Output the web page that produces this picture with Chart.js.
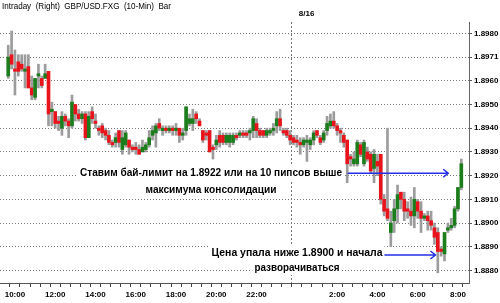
<!DOCTYPE html>
<html>
<head>
<meta charset="utf-8">
<script src="https://cdn.jsdelivr.net/npm/chart.js@4.4.0/dist/chart.umd.min.js"></script>
<style>
  html, body { margin: 0; padding: 0; background: #fff; }
  #wrap { width: 500px; height: 303px; }
</style>
</head>
<body>
<div id="wrap"><canvas id="chart"></canvas></div>
<script>
/* GBP/USD 10-minute candles, 9:40 to 8:10 next day (8/16). */

const barStart = 580;   // 9:40, minutes from midnight of the first day
const barStep = 10;     // 10-min bars

const opens = [
  1.8962,1.8971,1.8965,1.8968,1.8967,1.8964,1.8966,1.8957,1.8953,1.8962,
  1.8961,1.8961,1.8964,1.8947,1.8947,1.8943,1.8940,1.8945,1.8943,1.8941,
  1.8950,1.8946,1.8944,1.8946,1.8936,1.8947,1.8943,1.8940,1.8941,1.8939,
  1.8937,1.8934,1.8934,1.8939,1.8931,1.8933,1.8935,1.8932,1.8932,1.8931,
  1.8930,1.8931,1.8933,1.8937,1.8938,1.8942,1.8939,1.8940,1.8939,1.8940,
  1.8939,1.8940,1.8937,1.8939,1.8942,1.8942,1.8946,1.8943,1.8939,1.8938,
  1.8939,1.8932,1.8933,1.8937,1.8937,1.8934,1.8934,1.8934,1.8937,1.8937,
  1.8938,1.8938,1.8938,1.8939,1.8942,1.8939,1.8939,1.8937,1.8938,1.8939,
  1.8941,1.8944,1.8939,1.8939,1.8937,1.8936,1.8935,1.8934,1.8933,1.8934,
  1.8933,1.8935,1.8939,1.8936,1.8935,1.8939,1.8941,1.8943,1.8941,1.8939,
  1.8937,1.8935,1.8928,1.8925,1.8925,1.8933,1.8925,1.8930,1.8929,1.8923,
  1.8926,1.8929,1.8910,1.8906,1.8896,1.8901,1.8906,1.8913,1.8910,1.8906,
  1.8905,1.8903,1.8909,1.8905,1.8902,1.8903,1.8901,1.8898,1.8896,1.8889,
  1.8887,1.8897,1.8898,1.8899,1.8906,1.8915
];
const highs = [
  1.8975,1.8981,1.8973,1.8971,1.8971,1.8971,1.8971,1.8962,1.8961,1.8967,
  1.8962,1.8967,1.8964,1.8951,1.8947,1.8945,1.8947,1.8946,1.8944,1.8954,
  1.8950,1.8948,1.8947,1.8947,1.8947,1.8949,1.8946,1.8941,1.8942,1.8940,
  1.8939,1.8935,1.8938,1.8939,1.8939,1.8939,1.8935,1.8933,1.8934,1.8933,
  1.8935,1.8934,1.8939,1.8941,1.8942,1.8944,1.8941,1.8941,1.8941,1.8941,
  1.8942,1.8940,1.8940,1.8949,1.8946,1.8948,1.8947,1.8944,1.8939,1.8939,
  1.8939,1.8933,1.8937,1.8939,1.8938,1.8938,1.8938,1.8938,1.8938,1.8939,
  1.8939,1.8939,1.8940,1.8945,1.8944,1.8940,1.8939,1.8940,1.8940,1.8942,
  1.8947,1.8948,1.8940,1.8940,1.8939,1.8937,1.8937,1.8936,1.8936,1.8937,
  1.8936,1.8939,1.8939,1.8937,1.8939,1.8945,1.8946,1.8947,1.8942,1.8940,
  1.8938,1.8935,1.8929,1.8930,1.8935,1.8934,1.8935,1.8932,1.8930,1.8931,
  1.8929,1.8929,1.8912,1.8940,1.8905,1.8910,1.8916,1.8913,1.8913,1.8909,
  1.8911,1.8915,1.8910,1.8909,1.8904,1.8905,1.8905,1.8900,1.8898,1.8890,
  1.8896,1.8900,1.8902,1.8907,1.8915,1.8927
];
const lows = [
  1.8961,1.8965,1.8954,1.8962,1.8964,1.8957,1.8957,1.8952,1.8952,1.8957,
  1.8957,1.8961,1.8941,1.8941,1.8940,1.8939,1.8937,1.8941,1.8936,1.8940,
  1.8943,1.8943,1.8942,1.8935,1.8936,1.8942,1.8940,1.8937,1.8936,1.8935,
  1.8933,1.8932,1.8932,1.8932,1.8929,1.8932,1.8929,1.8930,1.8929,1.8929,
  1.8930,1.8930,1.8932,1.8935,1.8932,1.8939,1.8937,1.8938,1.8938,1.8937,
  1.8937,1.8934,1.8935,1.8937,1.8941,1.8939,1.8942,1.8941,1.8934,1.8935,
  1.8930,1.8927,1.8931,1.8932,1.8933,1.8933,1.8932,1.8933,1.8935,1.8936,
  1.8936,1.8936,1.8935,1.8936,1.8936,1.8936,1.8936,1.8936,1.8937,1.8937,
  1.8938,1.8939,1.8937,1.8936,1.8933,1.8933,1.8932,1.8929,1.8932,1.8926,
  1.8931,1.8933,1.8936,1.8933,1.8934,1.8937,1.8940,1.8940,1.8937,1.8934,
  1.8932,1.8917,1.8924,1.8924,1.8924,1.8928,1.8924,1.8926,1.8921,1.8917,
  1.8920,1.8908,1.8903,1.8901,1.8890,1.8896,1.8900,1.8906,1.8901,1.8902,
  1.8899,1.8898,1.8902,1.8896,1.8901,1.8897,1.8897,1.8891,1.8879,1.8886,
  1.8884,1.8896,1.8897,1.8898,1.8905,1.8914
];
const closes = [
  1.8970,1.8967,1.8964,1.8964,1.8965,1.8965,1.8957,1.8954,1.8961,1.8963,
  1.8958,1.8963,1.8946,1.8948,1.8942,1.8942,1.8945,1.8943,1.8941,1.8951,
  1.8946,1.8944,1.8946,1.8936,1.8945,1.8944,1.8942,1.8939,1.8938,1.8937,
  1.8934,1.8933,1.8936,1.8934,1.8936,1.8938,1.8932,1.8931,1.8931,1.8929,
  1.8932,1.8933,1.8936,1.8939,1.8941,1.8940,1.8940,1.8939,1.8940,1.8939,
  1.8940,1.8937,1.8938,1.8949,1.8944,1.8944,1.8944,1.8941,1.8935,1.8937,
  1.8930,1.8931,1.8935,1.8934,1.8934,1.8937,1.8937,1.8937,1.8936,1.8938,
  1.8937,1.8937,1.8939,1.8944,1.8939,1.8937,1.8937,1.8939,1.8939,1.8940,
  1.8944,1.8941,1.8938,1.8937,1.8935,1.8934,1.8934,1.8933,1.8935,1.8935,
  1.8935,1.8938,1.8937,1.8934,1.8938,1.8942,1.8943,1.8941,1.8939,1.8938,
  1.8934,1.8925,1.8927,1.8927,1.8934,1.8929,1.8934,1.8927,1.8922,1.8929,
  1.8924,1.8910,1.8905,1.8902,1.8900,1.8906,1.8912,1.8910,1.8905,1.8905,
  1.8903,1.8910,1.8905,1.8902,1.8903,1.8901,1.8899,1.8894,1.8888,1.8888,
  1.8896,1.8898,1.8899,1.8906,1.8915,1.8925
];

const yTicks = [1.888, 1.889, 1.890, 1.891, 1.892, 1.893, 1.894, 1.895, 1.896, 1.897, 1.898];
const yTickLabels = ["1.8880", "1.8890", "1.8900", "1.8910", "1.8920", "1.8930", "1.8940", "1.8950", "1.8960", "1.8971", "1.8980"];
const xTickLabels = ["10:00", "12:00", "14:00", "16:00", "18:00", "20:00", "22:00", "2:00", "4:00", "6:00", "8:00"];
const dayBreak = 1440;  // midnight, start of 8/16

const UP = "#1b7d1b", DOWN = "#e8141c", WICK = "#9c9c9c", ARROW = "#2430e8";
const FONT = '"Liberation Sans", Arial, sans-serif';

const times = opens.map((_, i) => barStart + i * barStep);

// text squeezed to the width it has in the picture
function fitText(ctx, text, x, cy, w, font, align) {
  ctx.font = font;
  const m = ctx.measureText(text).width;
  ctx.save();
  ctx.translate(x, cy);
  ctx.scale(Math.min(1, w / m), 1);
  ctx.fillStyle = "#000";
  ctx.textAlign = align;
  ctx.textBaseline = "middle";
  ctx.fillText(text, 0, 0);
  ctx.restore();
}

// same, with a white box behind it
function boxedText(ctx, text, cx, cy, w) {
  ctx.fillStyle = "#fff";
  ctx.fillRect(cx - w / 2 - 2, cy - 7, w + 4, 14);
  fitText(ctx, text, cx, cy, w, "bold 11px " + FONT, "center");
}

function arrow(ctx, x1, x2, y) {
  ctx.save();
  ctx.strokeStyle = ARROW;
  ctx.lineWidth = 1.5;
  ctx.beginPath();
  ctx.moveTo(x1, y); ctx.lineTo(x2, y);
  ctx.moveTo(x2 - 5, y - 4); ctx.lineTo(x2, y); ctx.lineTo(x2 - 5, y + 4);
  ctx.stroke();
  ctx.restore();
}

const notes = {
  id: "notes",
  afterDatasetsDraw(chart) {
    const { ctx, scales: { x, y } } = chart;
    boxedText(ctx, "Ставим бай-лимит на 1.8922 или на 10 пипсов выше", 211, 173, 262);
    boxedText(ctx, "максимума консолидации", 211, 190, 131);
    arrow(ctx, x.getPixelForValue(1591), x.getPixelForValue(1891), y.getPixelForValue(1.8921));
    boxedText(ctx, "Цена упала ниже 1.8900 и начала", 297, 253, 171);
    boxedText(ctx, "разворачиваться", 297, 268, 85);
    arrow(ctx, x.getPixelForValue(1701), x.getPixelForValue(1853), y.getPixelForValue(1.88865));
  },
  afterDraw(chart) {
    const { ctx, scales: { x } } = chart;
    fitText(ctx, "Intraday  (Right)  GBP/USD.FXG  (10-Min)  Bar", 2, 7, 169, "9px " + FONT, "left");
    fitText(ctx, "8/16", x.getPixelForValue(dayBreak) + 2, 14, 16, "bold 8px " + FONT, "left");
  }
};

new Chart(document.getElementById("chart"), {
  type: "bar",
  data: {
    datasets: [
      {
        label: "body",
        data: times.map((t, i) => ({ x: t, y: [opens[i], closes[i]] })),
        backgroundColor: opens.map((o, i) => closes[i] >= o ? UP : DOWN),
        barThickness: 3, minBarLength: 1, grouped: false
      },
      {
        label: "wick",
        data: times.map((t, i) => ({ x: t, y: [lows[i], highs[i]] })),
        backgroundColor: WICK,
        barThickness: 2, grouped: false
      }
    ]
  },
  options: {
    responsive: true, maintainAspectRatio: false, animation: false,
    layout: { padding: { top: 22, left: 0, right: 0, bottom: 0 } },
    plugins: { legend: { display: false }, tooltip: { enabled: false } },
    scales: {
      x: {
        type: "linear", min: 571, max: 1937.4,
        afterBuildTicks: ax => {
          const ticks = [];
          for (let v = 600; v <= 1920; v += 30) ticks.push({ value: v });
          ax.ticks = ticks;
        },
        afterFit: ax => { ax.height = 20; },
        ticks: {
          autoSkip: false, maxRotation: 0, padding: 3, color: "#000",
          font: { family: FONT, size: 8, weight: "bold" },
          callback: v => {
            const s = (Math.floor(v / 60) % 24) + ":" + String(v % 60).padStart(2, "0");
            return xTickLabels.includes(s) ? s : "";
          }
        },
        grid: {
          drawOnChartArea: true, tickLength: 4, tickColor: "#444",
          color: c => (c.tick && c.tick.value === dayBreak) ? "#777" : "rgba(0,0,0,0)"
        },
        border: { display: true, color: "#555", width: 1, dash: [2, 2] }
      },
      y: {
        position: "right", min: 1.88747, max: 1.89848,
        afterBuildTicks: ax => { ax.ticks = yTicks.map(v => ({ value: v })); },
        afterFit: ax => { ax.width = 31; },
        ticks: {
          padding: 2, color: "#000",
          font: { family: FONT, size: 8, weight: "bold" },
          callback: (v, i) => yTickLabels[i]
        },
        grid: { color: "#777", tickLength: 3, tickColor: "#555" },
        border: { display: true, color: "#666", width: 1, dash: [1, 2] }
      }
    }
  },
  plugins: [notes]
});
</script>
</body>
</html>
